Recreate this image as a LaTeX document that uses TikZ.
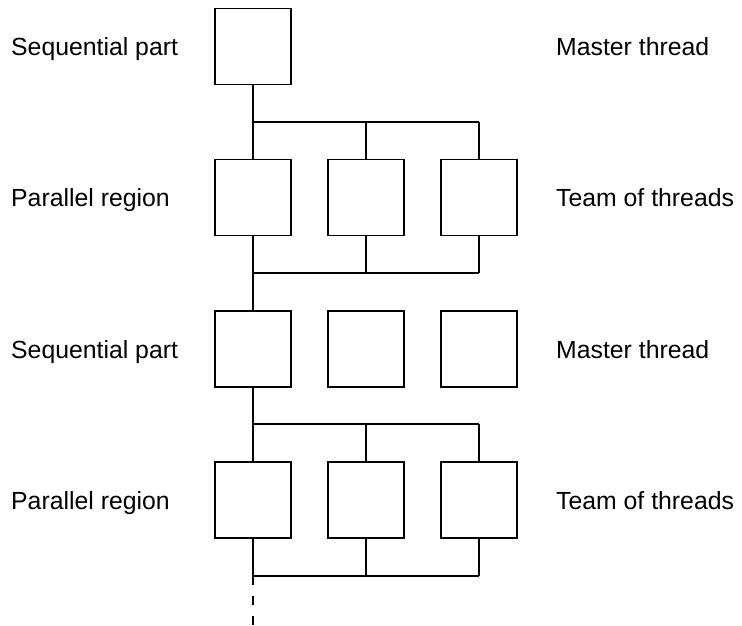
\documentclass[tikz,border=0pt]{standalone}
\usepackage{fontspec}
\setmainfont{Liberation Sans}
\begin{document}
\begin{tikzpicture}[x=1pt,y=-1pt,
  box/.style={draw,line width=1.3pt,minimum size=76pt,inner sep=0pt},
  lbl/.style={font=\fontsize{24.8}{30}\selectfont,anchor=base west,inner sep=0pt},
  ln/.style={line width=1.3pt}]
\useasboundingbox (0,0) rectangle (742,625);
% boxes
\node[box] (b11) at (253,46.5) {};
\node[box] (b21) at (253,197.5) {};
\node[box] (b22) at (366,197.5) {};
\node[box] (b23) at (479,197.5) {};
\node[box] (b31) at (253,349) {};
\node[box] (b32) at (366,349) {};
\node[box] (b33) at (479,349) {};
\node[box] (b41) at (253,500) {};
\node[box] (b42) at (366,500) {};
\node[box] (b43) at (479,500) {};
% labels
\node[lbl] (l1) at (11,55.5) {Sequential part};
\node[lbl] (l2) at (11,206.5) {Parallel region};
\node[lbl] (l3) at (11,358) {Sequential part};
\node[lbl] (l4) at (11,509) {Parallel region};
\node[lbl] (r1) at (556,55.5) {Master thread};
\node[lbl] (r2) at (556,206.5) {Team of threads};
\node[lbl] (r3) at (556,358) {Master thread};
\node[lbl] (r4) at (556,509) {Team of threads};
% junctions
\coordinate (j1a) at (253,122); \coordinate (j1b) at (366,122); \coordinate (j1c) at (479,122);
\coordinate (j2a) at (253,273); \coordinate (j2b) at (366,273); \coordinate (j2c) at (479,273);
\coordinate (j3a) at (253,424); \coordinate (j3b) at (366,424); \coordinate (j3c) at (479,424);
\coordinate (j4a) at (253,576); \coordinate (j4b) at (366,576); \coordinate (j4c) at (479,576);
\coordinate (fin) at (253,625);
% fork 1
\draw[ln] (b11) -- (j1a) -- (b21);
\draw[ln] (j1a) -- (j1c);
\draw[ln] (j1b) -- (b22);
\draw[ln] (j1c) -- (b23);
% join 1
\draw[ln] (b21) -- (j2a) -- (b31);
\draw[ln] (j2a) -- (j2c);
\draw[ln] (b22) -- (j2b);
\draw[ln] (b23) -- (j2c);
% fork 2
\draw[ln] (b31) -- (j3a) -- (b41);
\draw[ln] (j3a) -- (j3c);
\draw[ln] (j3b) -- (b42);
\draw[ln] (j3c) -- (b43);
% join 2
\draw[ln] (b41) -- (j4a);
\draw[ln] (j4a) -- (j4c);
\draw[ln] (b42) -- (j4b);
\draw[ln] (b43) -- (j4c);
\draw[ln,dash pattern=on 9pt off 11pt] (j4a) -- (fin);
\end{tikzpicture}
\end{document}
